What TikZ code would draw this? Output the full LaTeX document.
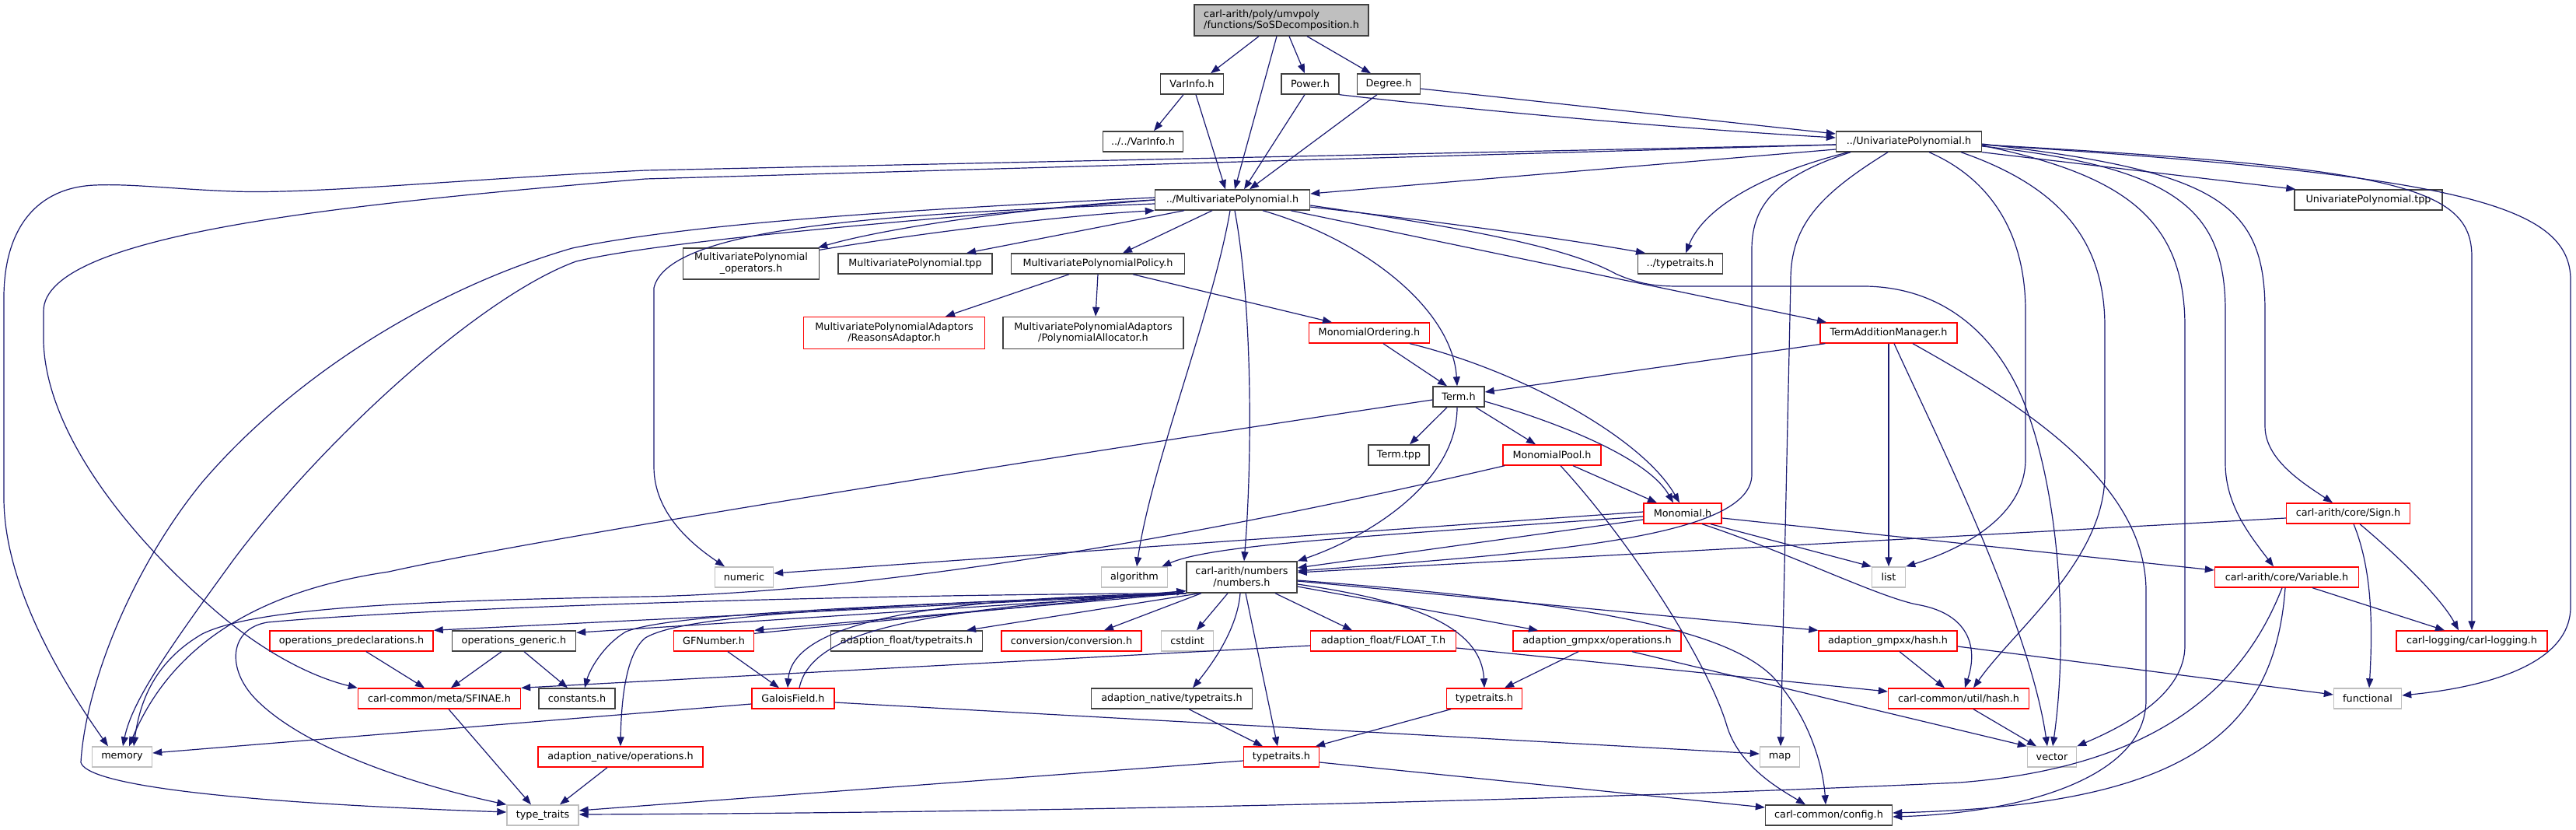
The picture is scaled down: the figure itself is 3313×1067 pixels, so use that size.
\documentclass[tikz,border=0pt]{standalone}
\usepackage{fontspec}
\setmainfont{DejaVu Sans}
\usetikzlibrary{arrows.meta}
\definecolor{edgeblue}{HTML}{191970}
\definecolor{nodegray}{HTML}{BFBFBF}
\definecolor{nodeblack}{HTML}{404040}
\newcommand\nodefont{\fontsize{12.8pt}{14.8pt}\selectfont}
\begin{document}
\begin{tikzpicture}[x=1pt,y=-1pt,
 box/.style={draw=nodeblack, line width=1.4pt, fill=white, inner sep=0pt, font=\nodefont, minimum height=26pt, align=center},
 redbox/.style={box, draw=red},
 graybox/.style={box, draw=nodegray},
 rootbox/.style={box, fill=nodegray, align=left},
 e/.style={draw=edgeblue, line width=1.2pt, -{Triangle[length=12pt,width=9pt]}}]
\useasboundingbox (0,0) rectangle (3313,1067);

% ---------- nodes ----------
\node[rootbox, minimum width=224pt, minimum height=40pt] (root) at (1648,26) {carl-arith/poly/umvpoly\\/functions/SoSDecomposition.h};
\node[box, minimum width=81pt] (varinfo) at (1533,108) {VarInfo.h};
\node[box, minimum width=74pt] (power) at (1685,108) {Power.h};
\node[box, minimum width=81pt] (degree) at (1786,108) {Degree.h};
\node[box, minimum width=103pt] (vvarinfo) at (1470,182) {../../VarInfo.h};
\node[box, minimum width=187pt] (up) at (2455,182) {../UnivariatePolynomial.h};
\node[box, minimum width=199pt] (mp) at (1585,257) {../MultivariatePolynomial.h};
\node[box, minimum width=190pt] (uptpp) at (3046,257) {UnivariatePolynomial.tpp};
\node[box, minimum width=175pt, minimum height=40pt] (mpops) at (966,339) {MultivariatePolynomial\\\_operators.h};
\node[box, minimum width=198pt] (mptpp) at (1177,339) {MultivariatePolynomial.tpp};
\node[box, minimum width=223pt] (mppol) at (1412,339) {MultivariatePolynomialPolicy.h};
\node[box, minimum width=109pt] (typetr1) at (2161,339) {../typetraits.h};
\node[redbox, minimum width=233pt, minimum height=41pt] (reasons) at (1150,428) {MultivariatePolynomialAdaptors\\/ReasonsAdaptor.h};
\node[box, minimum width=232pt, minimum height=41pt] (alloc) at (1406,428) {MultivariatePolynomialAdaptors\\/PolynomialAllocator.h};
\node[redbox, minimum width=155pt] (monord) at (1761,428) {MonomialOrdering.h};
\node[redbox, minimum width=176pt] (tam) at (2429,428) {TermAdditionManager.h};
\node[box, minimum width=66pt] (term) at (1876,510) {Term.h};
\node[box, minimum width=78pt] (termtpp) at (1799,585) {Term.tpp};
\node[redbox, minimum width=126pt] (mpool) at (1996,585) {MonomialPool.h};
\node[redbox, minimum width=100pt] (monomial) at (2164,660) {Monomial.h};
\node[redbox, minimum width=159pt] (sign) at (3020,660) {carl-arith/core/Sign.h};
\node[graybox, minimum width=75pt] (numeric) at (957,742) {numeric};
\node[graybox, minimum width=85pt] (algorithm) at (1459,742) {algorithm};
\node[box, minimum width=142pt, minimum height=40pt] (numbers) at (1597,742) {carl-arith/numbers\\/numbers.h};
\node[graybox, minimum width=43pt] (list) at (2429,742) {list};
\node[redbox, minimum width=185pt] (variable) at (2941,742) {carl-arith/core/Variable.h};
\node[redbox, minimum width=210pt] (opspre) at (452,824) {operations\_predeclarations.h};
\node[box, minimum width=159pt] (opsgen) at (661,824) {operations\_generic.h};
\node[redbox, minimum width=103pt] (gfnum) at (918,824) {GFNumber.h};
\node[box, minimum width=195pt] (aftt) at (1166,824) {adaption\_float/typetraits.h};
\node[redbox, minimum width=180pt] (conv) at (1378,824) {conversion/conversion.h};
\node[graybox, minimum width=67pt] (cstdint) at (1527,824) {cstdint};
\node[redbox, minimum width=187pt] (floatt) at (1779,824) {adaption\_float/FLOAT\_T.h};
\node[redbox, minimum width=216pt] (gmpops) at (2054,824) {adaption\_gmpxx/operations.h};
\node[redbox, minimum width=178pt] (gmphash) at (2428,824) {adaption\_gmpxx/hash.h};
\node[redbox, minimum width=194pt] (logging) at (3179,824) {carl-logging/carl-logging.h};
\node[redbox, minimum width=209pt] (sfinae) at (565,898) {carl-common/meta/SFINAE.h};
\node[box, minimum width=98pt] (constants) at (742,898) {constants.h};
\node[redbox, minimum width=106pt] (galois) at (1020,898) {GaloisField.h};
\node[box, minimum width=207pt] (antt) at (1507,898) {adaption\_native/typetraits.h};
\node[redbox, minimum width=97pt] (typetr2) at (1909,898) {typetraits.h};
\node[redbox, minimum width=181pt] (uhash) at (2519,898) {carl-common/util/hash.h};
\node[graybox, minimum width=87pt] (functional) at (3045,898) {functional};
\node[graybox, minimum width=77pt] (memory) at (157,973) {memory};
\node[redbox, minimum width=212pt] (anops) at (798,973) {adaption\_native/operations.h};
\node[redbox, minimum width=97pt] (typetr3) at (1648,973) {typetraits.h};
\node[graybox, minimum width=51pt] (map) at (2289,973) {map};
\node[graybox, minimum width=63pt] (vector) at (2639,973) {vector};
\node[graybox, minimum width=92pt] (ttstd) at (698,1048) {type\_traits};
\node[box, minimum width=163pt] (config) at (2352,1048) {carl-common/config.h};

% ---------- edges ----------
% root
\draw[e] ([xshift=-29pt]root.south) -- ([xshift=24pt]varinfo.north);
\draw[e] ([xshift=-6pt]root.south) -- ([xshift=3pt]mp.north);
\draw[e] ([xshift=10pt]root.south) -- ([xshift=-7pt]power.north);
\draw[e] ([xshift=33pt]root.south) -- ([xshift=-23pt]degree.north);
% VarInfo, Power, Degree
\draw[e] ([xshift=-11pt]varinfo.south) -- ([xshift=14pt]vvarinfo.north);
\draw[e] ([xshift=5pt]varinfo.south) -- ([xshift=-9pt]mp.north);
\draw[e] ([xshift=-7pt]power.south) -- ([xshift=15pt]mp.north);
\draw[e] (power.south east) .. controls (1880,140) and (2150,165) .. ([yshift=5pt]up.west);
\draw[e] ([xshift=-15pt]degree.south) -- ([xshift=22pt]mp.north);
\draw[e] ([yshift=-6pt]degree.east) -- ([yshift=10pt]up.west);
% UnivariatePolynomial
\draw[e] ([yshift=-10pt]up.west) -- ([yshift=8pt]mp.east);
\draw[e] ([yshift=-4pt]up.west) -- (830,219) .. controls (600,230) and (400,250) .. (300,246) .. controls (220,243) and (170,236) .. (122,238) .. controls (50,241) and (6,290) .. (5,380) -- (5,640) .. controls (5,760) and (90,890) .. ([xshift=-18pt]memory.north);
\draw[e] ([yshift=-4pt]up.west) -- (830,230) .. controls (450,262) and (56,300) .. (56,400) -- (56,440) .. controls (60,560) and (170,690) .. (260,770) .. controls (330,835) and (400,870) .. (sfinae.north west);
\draw[e] ([xshift=-78pt]up.south) .. controls (2260,225) and (2190,270) .. ([xshift=7pt]typetr1.north);
\draw[e] ([xshift=-75pt]up.south) .. controls (2290,225) and (2253,260) .. (2253,320) -- (2253,610) .. controls (2253,690) and (2000,710) .. ([yshift=8pt]numbers.east);
\draw[e] ([xshift=-27pt]up.south) .. controls (2340,250) and (2303,290) .. (2303,360) -- ([xshift=1pt]map.north);
\draw[e] ([xshift=26pt]up.south) .. controls (2560,230) and (2605,300) .. (2605,400) -- (2605,590) .. controls (2605,670) and (2510,710) .. (list.north east);
\draw[e] ([xshift=67pt]up.south) .. controls (2650,240) and (2707,310) .. (2707,420) -- (2707,610) .. controls (2707,720) and (2590,810) .. ([xshift=19pt]uhash.north);
\draw[e] ([yshift=-5pt]up.east) .. controls (2730,225) and (2810,280) .. (2810,420) -- (2810,830) .. controls (2810,890) and (2740,930) .. (vector.north east);
\draw[e] ([yshift=-6pt]up.east) .. controls (2800,215) and (2862,270) .. (2862,400) -- (2862,596) .. controls (2862,650) and (2895,690) .. ([xshift=-17pt]variable.north);
\draw[e] ([yshift=-3pt]up.east) .. controls (2850,220) and (2913,260) .. (2913,400) -- (2913,548) .. controls (2913,590) and (2960,620) .. ([xshift=-20pt]sign.north);
\draw[e] (up.south east) -- ([xshift=2pt]uptpp.north west);
\draw[e] ([yshift=-4pt]up.east) .. controls (3080,215) and (3179,240) .. (3179,330) -- (logging.north);
\draw[e] ([yshift=-4pt]up.east) .. controls (3150,225) and (3306,260) .. (3306,360) -- (3306,780) .. controls (3306,860) and (3180,885) .. ([yshift=4pt]functional.east);
% MultivariatePolynomial
\draw[e] (mp.west) .. controls (1350,264) and (1150,290) .. ([xshift=-2pt]mpops.north east);
\draw[e] ([yshift=-3pt]mpops.north east) .. controls (1150,305) and (1350,278) .. (mp.south west);
\draw[e] ([xshift=-62pt]mp.south) -- ([xshift=66pt]mptpp.north);
\draw[e] ([xshift=-26pt]mp.south) -- ([xshift=32pt]mppol.north);
\draw[e] ([yshift=-5pt]mp.west) .. controls (1150,275) and (860,290) .. (841,370) -- (841,600) .. controls (841,660) and (890,700) .. ([xshift=-25pt]numeric.north);
\draw[e] ([yshift=3pt]mp.west) .. controls (1200,268) and (900,285) .. (736,319) .. controls (560,370) and (380,480) .. (260,620) .. controls (170,730) and (110,880) .. (104,980) .. controls (110,1005) and (250,1030) .. ([yshift=4pt]ttstd.west);
\draw[e] (mp.west) .. controls (1150,285) and (850,310) .. (741,336) .. controls (620,380) and (420,560) .. (300,720) .. controls (220,830) and (170,900) .. ([xshift=1pt]memory.north);
\draw[e] ([xshift=-3pt]mp.south) .. controls (1560,400) and (1480,600) .. ([xshift=3pt]algorithm.north);
\draw[e] ([xshift=3pt]mp.south) .. controls (1612,400) and (1610,600) .. ([xshift=3pt]numbers.north);
\draw[e] ([xshift=39pt]mp.south) .. controls (1760,310) and (1868,400) .. ([xshift=-2pt]term.north);
\draw[e] ([yshift=-9pt]mp.east) .. controls (1850,285) and (2000,305) .. ([xshift=-45pt]typetr1.north);
\draw[e] ([xshift=75pt]mp.south) -- ([xshift=-80pt]tam.north);
\draw[e] ([yshift=-7pt]mp.east) .. controls (1900,295) and (2020,320) .. (2078,352) .. controls (2110,366) and (2130,368) .. (2160,368) -- (2400,368) .. controls (2500,370) and (2565,430) .. (2600,510) .. controls (2650,630) and (2660,820) .. ([xshift=1pt]vector.north);
% Policy
\draw[e] ([xshift=-37pt]mppol.south) -- ([xshift=66pt]reasons.north);
\draw[e] (mppol.south) -- ([xshift=3pt]alloc.north);
\draw[e] ([xshift=45pt]mppol.south) -- ([xshift=-48pt]monord.north);
% MonomialOrdering
\draw[e] ([xshift=18pt]monord.south) -- ([xshift=-15pt]term.north);
\draw[e] ([xshift=52pt]monord.south) .. controls (1950,475) and (2110,560) .. ([xshift=-4pt]monomial.north);
% TermAdditionManager
\draw[e] ([xshift=7pt]tam.south west) -- ([yshift=6pt]term.east);
\draw[e] (tam.south) -- (list.north);
\draw[e] ([xshift=7pt]tam.south) .. controls (2490,560) and (2610,800) .. ([xshift=-6pt]vector.north);
\draw[e] ([xshift=31pt]tam.south) .. controls (2600,520) and (2760,620) .. (2760,760) -- (2760,900) .. controls (2760,1000) and (2600,1045) .. ([yshift=-2pt]config.east);
% Term
\draw[e] ([xshift=-15pt]term.south) -- ([xshift=14pt]termtpp.north);
\draw[e] ([xshift=22pt]term.south) -- ([xshift=-21pt]mpool.north);
\draw[e] ([yshift=-6pt]term.east) .. controls (2010,545) and (2120,590) .. ([xshift=-12pt]monomial.north);
\draw[e] ([yshift=-4pt]term.west) .. controls (1400,580) and (700,690) .. (500,735) .. controls (330,760) and (220,830) .. ([xshift=9pt]memory.north);
\draw[e] ([xshift=-2pt]term.south) .. controls (1874,620) and (1760,690) .. (numbers.north east);
% MonomialPool
\draw[e] ([xshift=27pt]mpool.south) -- ([xshift=-33pt]monomial.north);
\draw[e] ([xshift=-61pt]mpool.south) .. controls (1500,700) and (1100,762) .. (830,767) .. controls (550,772) and (330,780) .. (260,815) .. controls (200,850) and (180,900) .. ([xshift=15pt]memory.north);
\draw[e] ([xshift=11pt]mpool.south) .. controls (2100,700) and (2195,850) .. (2220,930) .. controls (2235,985) and (2290,1015) .. ([xshift=-30pt]config.north);
% Monomial
\draw[e] ([yshift=2pt]monomial.west) -- ([yshift=5pt]numeric.east);
\draw[e] ([yshift=-4pt]monomial.west) .. controls (1750,690) and (1560,700) .. ([xshift=-8pt]algorithm.north east);
\draw[e] ([yshift=-8pt]monomial.west) -- ([yshift=12pt]numbers.east);
\draw[e] ([xshift=36pt]monomial.south) -- (list.north west);
\draw[e] ([yshift=-6pt]monomial.east) -- ([yshift=9pt]variable.west);
\draw[e] ([xshift=25pt]monomial.south) .. controls (2300,710) and (2420,770) .. (2470,778) .. controls (2530,790) and (2545,830) .. ([xshift=8pt]uhash.north);
% Sign
\draw[e] ([yshift=-6pt]sign.west) -- ([yshift=6pt]numbers.east);
\draw[e] ([xshift=7pt]sign.south) .. controls (3050,730) and (3052,800) .. ([xshift=2pt]functional.north);
\draw[e] ([xshift=15pt]sign.south) .. controls (3090,720) and (3140,770) .. ([xshift=-17pt]logging.north);
% Variable
\draw[e] ([xshift=33pt]variable.south) -- ([xshift=-35pt]logging.north);
\draw[e] ([xshift=-6pt]variable.south) .. controls (2890,870) and (2790,985) .. (2520,1006) .. controls (2000,1030) and (1300,1045) .. ([yshift=1pt]ttstd.east);
\draw[e] ([xshift=-2pt]variable.south) .. controls (2925,950) and (2800,1035) .. ([yshift=3pt]config.east);
% numbers
\draw[e] (numbers.south west) -- (opspre.north east);
\draw[e] (numbers.south west) -- ([yshift=-3pt]opsgen.north east);
\draw[e] (numbers.south west) .. controls (1100,780) and (860,790) .. (805,812) .. controls (775,830) and (758,862) .. ([xshift=10pt]constants.north);
\draw[e] (numbers.south west) .. controls (1100,780) and (880,790) .. (830,820) .. controls (805,840) and (799,900) .. (anops.north);
\draw[e] (numbers.south west) .. controls (1000,765) and (500,785) .. (344,800) .. controls (295,808) and (290,860) .. (330,900) .. controls (400,970) and (560,1015) .. (ttstd.north west);
\draw[e] (numbers.south west) -- (gfnum.north east);
\draw[e] ([yshift=-4pt]gfnum.north east) -- ([yshift=3pt]numbers.south west);
\draw[e] (numbers.south west) .. controls (1250,768) and (1020,790) .. ([xshift=-7pt]galois.north);
\draw[e] ([xshift=8pt]galois.north) .. controls (1045,805) and (1200,785) .. ([yshift=3pt]numbers.south west);
\draw[e] ([xshift=-54pt]numbers.south) -- ([xshift=77pt]aftt.north);
\draw[e] ([xshift=-52pt]numbers.south) -- ([xshift=42pt]conv.north);
\draw[e] ([xshift=-18pt]numbers.south) -- ([xshift=12pt]cstdint.north);
\draw[e] ([xshift=-2pt]numbers.south) .. controls (1592,800) and (1570,840) .. ([xshift=27pt]antt.north);
\draw[e] ([xshift=5pt]numbers.south) -- ([xshift=-5pt]typetr3.north);
\draw[e] ([xshift=43pt]numbers.south) -- ([xshift=-40pt]floatt.north);
\draw[e] ([yshift=-9pt]numbers.east) .. controls (1800,770) and (1905,800) .. (typetr2.north);
\draw[e] ([yshift=-12pt]numbers.east) -- ([xshift=-76pt]gmpops.north);
\draw[e] ([yshift=-5pt]numbers.east) -- (gmphash.north west);
\draw[e] ([yshift=-4pt]numbers.east) .. controls (2050,775) and (2220,810) .. (2280,870) .. controls (2330,925) and (2345,990) .. ([xshift=-4pt]config.north);
% GFNumber, GaloisField
\draw[e] ([xshift=18pt]gfnum.south) -- ([xshift=-18pt]galois.north);
\draw[e] ([yshift=-7pt]galois.west) -- ([yshift=5pt]memory.east);
\draw[e] ([yshift=-5pt]galois.east) -- ([yshift=4pt]map.west);
% operations
\draw[e] ([xshift=19pt]opspre.south) -- ([xshift=-19pt]sfinae.north);
\draw[e] ([xshift=-16pt]opsgen.south) -- ([xshift=15pt]sfinae.north);
\draw[e] ([xshift=13pt]opsgen.south) -- ([xshift=-12pt]constants.north);
\draw[e] ([xshift=12pt]sfinae.south) -- ([xshift=-15pt]ttstd.north);
\draw[e] ([xshift=-17pt]anops.south) -- ([xshift=22pt]ttstd.north);
% adaption_float / gmpxx
\draw[e] ([yshift=-6pt]floatt.west) -- (sfinae.north east);
\draw[e] ([yshift=-9pt]floatt.east) -- ([yshift=9pt]uhash.west);
\draw[e] ([xshift=-24pt]gmpops.south) -- ([xshift=26pt]typetr2.north);
\draw[e] ([xshift=45pt]gmpops.south) -- (vector.north west);
\draw[e] ([xshift=15pt]gmphash.south) -- ([xshift=-18pt]uhash.north);
\draw[e] ([yshift=-7pt]gmphash.east) -- ([yshift=5pt]functional.west);
% typetraits
\draw[e] ([xshift=-43pt]typetr2.south) -- ([xshift=44pt]typetr3.north);
\draw[e] ([xshift=22pt]antt.south) -- ([xshift=-24pt]typetr3.north);
\draw[e] ([yshift=-5pt]typetr3.west) -- ([yshift=6pt]ttstd.east);
\draw[e] ([yshift=-7pt]typetr3.east) -- ([yshift=10pt]config.west);
\draw[e] ([xshift=19pt]uhash.south) -- ([xshift=-20pt]vector.north);
\end{tikzpicture}
\end{document}
